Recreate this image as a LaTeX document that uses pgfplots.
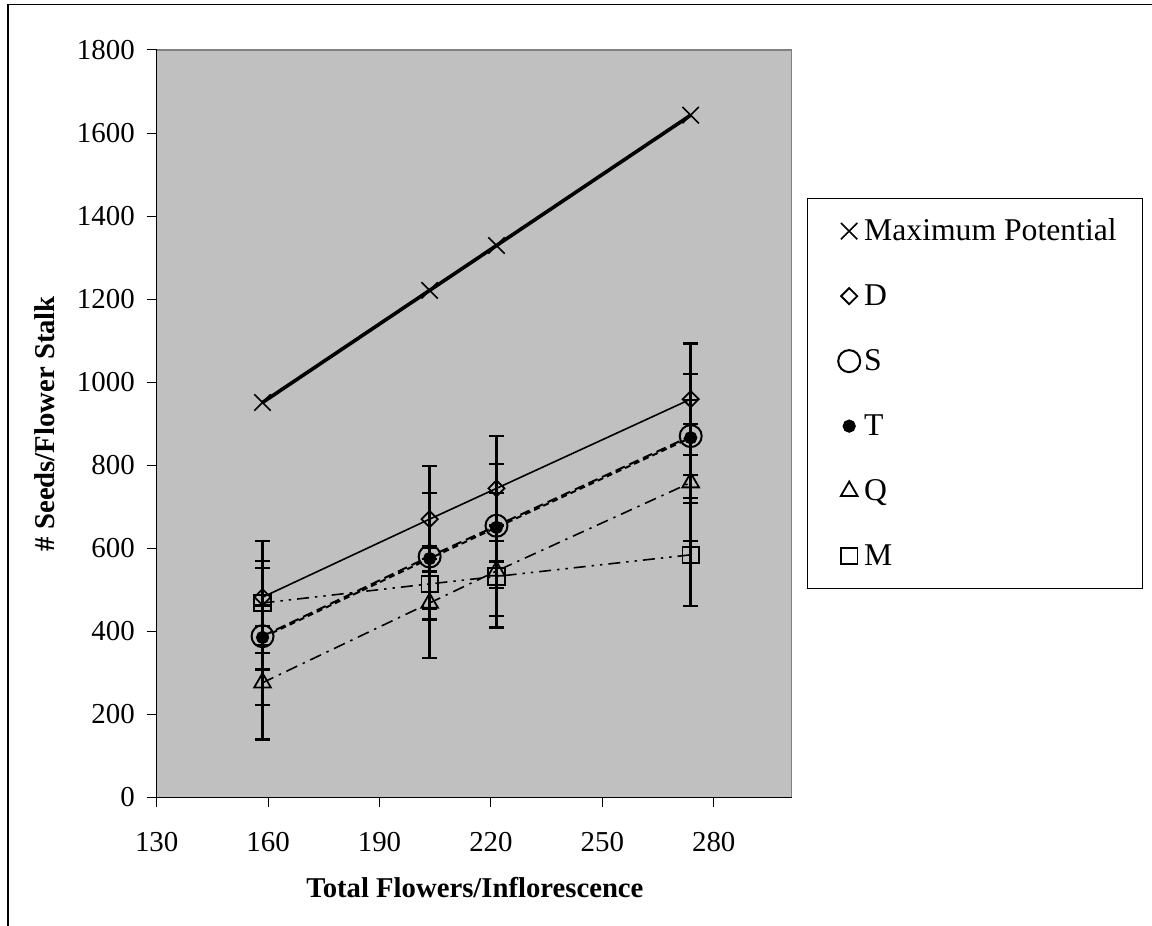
\documentclass[border=0pt]{standalone}
\usepackage{pgfplots}
\pgfplotsset{compat=1.18}
\usepackage{fontspec}
\setmainfont{Liberation Serif}
\definecolor{plotgray}{RGB}{192,192,192}
\definecolor{bordergray}{RGB}{128,128,128}
\begin{document}
\begin{tikzpicture}[x=1bp,y=1bp]
\path[use as bounding box] (0,0) rectangle (576,463);
\draw[line width=0.6bp] (4,0) -- (4,460.9) -- (576,460.9);
\begin{axis}[
  at={(78.35bp,64.35bp)}, anchor=south west,
  scale only axis, width=317.5bp, height=373.65bp,
  xmin=130, xmax=301, ymin=0, ymax=1800,
  xtick={130,160,190,220,250,280},
  ytick={0,200,400,600,800,1000,1200,1400,1600,1800},
  axis lines*=left,
  axis line style={line width=0.6bp, black},
  axis background/.style={fill=plotgray},
  tick align=outside, major tick length=5bp,
  tick style={line width=0.5bp, black},
  /pgf/number format/assume math mode=true,
  /pgf/number format/1000 sep={},
  ticklabel style={font=\fontsize{14.5}{17}\selectfont},
  yticklabel style={inner sep=0pt, xshift=-5.8bp},
  xticklabel style={inner sep=0pt, yshift=-12.5bp},
  xlabel={\textbf{Total Flowers/Inflorescence}},
  ylabel={\textbf{\# Seeds/Flower Stalk}},
  label style={font=\fontsize{14.4}{17}\selectfont},
  xlabel style={at={(axis description cs:0.501,-0.1214)}, anchor=center},
  ylabel style={at={(axis description cs:-0.176,0.5)}, anchor=center},
  legend style={at={(axis description cs:1.0236,0.8015)}, anchor=north west,
    draw=black, line width=0.5bp, fill=white,
    font=\fontsize{15.9}{18}\selectfont,
    inner xsep=13bp, inner ysep=1.5bp, row sep=3.2bp, column sep=1.5bp,
    nodes={inner sep=0pt}},
  legend cell align=left,
  legend image code/.code={\path[draw=none,fill=none] (-8bp,-14.65bp) rectangle (6bp,14.65bp); \draw plot coordinates {(0bp,0bp)};},
  error bars/y dir=both, error bars/y explicit,
  error bars/error bar style={line width=1.3bp, solid, black},
  error bars/error mark options={rotate=90, line width=1.1bp, mark size=3.75bp, solid, black},
  every axis plot/.append style={black},
  clip=false,
]
% Maximum potential (no error bars)
\addplot[line width=1.8bp, mark=x, mark size=5.8bp, mark options={solid, line width=0.8bp}, error bars/y dir=none]
  coordinates {(158.5,951) (203.5,1221) (221.5,1329) (273.8,1643)};
\addlegendentry{Maximum Potential}
% D
\addplot[line width=0.8bp, mark=square, mark size=2.85bp, mark options={solid, rotate=45, line width=0.9bp}]
  coordinates {(158.5,482) +- (0,135) (203.5,670) +- (0,128) (221.5,744) +- (0,126) (273.8,959) +- (0,134)};
\addlegendentry{D}
% S
\addplot[line width=1bp, dash pattern=on 5bp off 2.5bp, mark=o, mark size=5.5bp, mark options={solid, line width=1bp}]
  coordinates {(158.5,388) +- (0,165) (203.5,580) +- (0,152) (221.5,654) +- (0,149) (273.8,870) +- (0,149)};
\addlegendentry{S}
% T
\addplot[line width=1bp, dash pattern=on 3bp off 2bp, mark=*, mark size=2.8bp, mark options={solid}]
  coordinates {(158.5,385) +- (0,77) (203.5,575) +- (0,30) (221.5,650) +- (0,82) (273.8,866) +- (0,90)};
\addlegendentry{T}
% Q
\addplot[line width=0.8bp, dash pattern=on 6bp off 3bp on 1.2bp off 3bp, mark=triangle, mark size=4.8bp, mark options={solid, line width=0.9bp}]
  coordinates {(158.5,276) +- (0,137) (203.5,468) +- (0,132) (221.5,545) +- (0,109) (273.8,758) +- (0,141)};
\addlegendentry{Q}
% M
\addplot[line width=0.8bp, dash pattern=on 6bp off 3bp on 1.2bp off 3bp on 1.2bp off 3bp, mark=square, mark size=4.1bp, mark options={solid, line width=0.9bp}]
  coordinates {(158.5,468) +- (0,102) (203.5,514) +- (0,60) (221.5,532) +- (0,123) (273.8,584) +- (0,124)};
\addlegendentry{M}
\draw[line width=0.6bp, bordergray] (rel axis cs:0,1) -- (rel axis cs:1,1) -- (rel axis cs:1,0);
\end{axis}
\end{tikzpicture}
\end{document}
